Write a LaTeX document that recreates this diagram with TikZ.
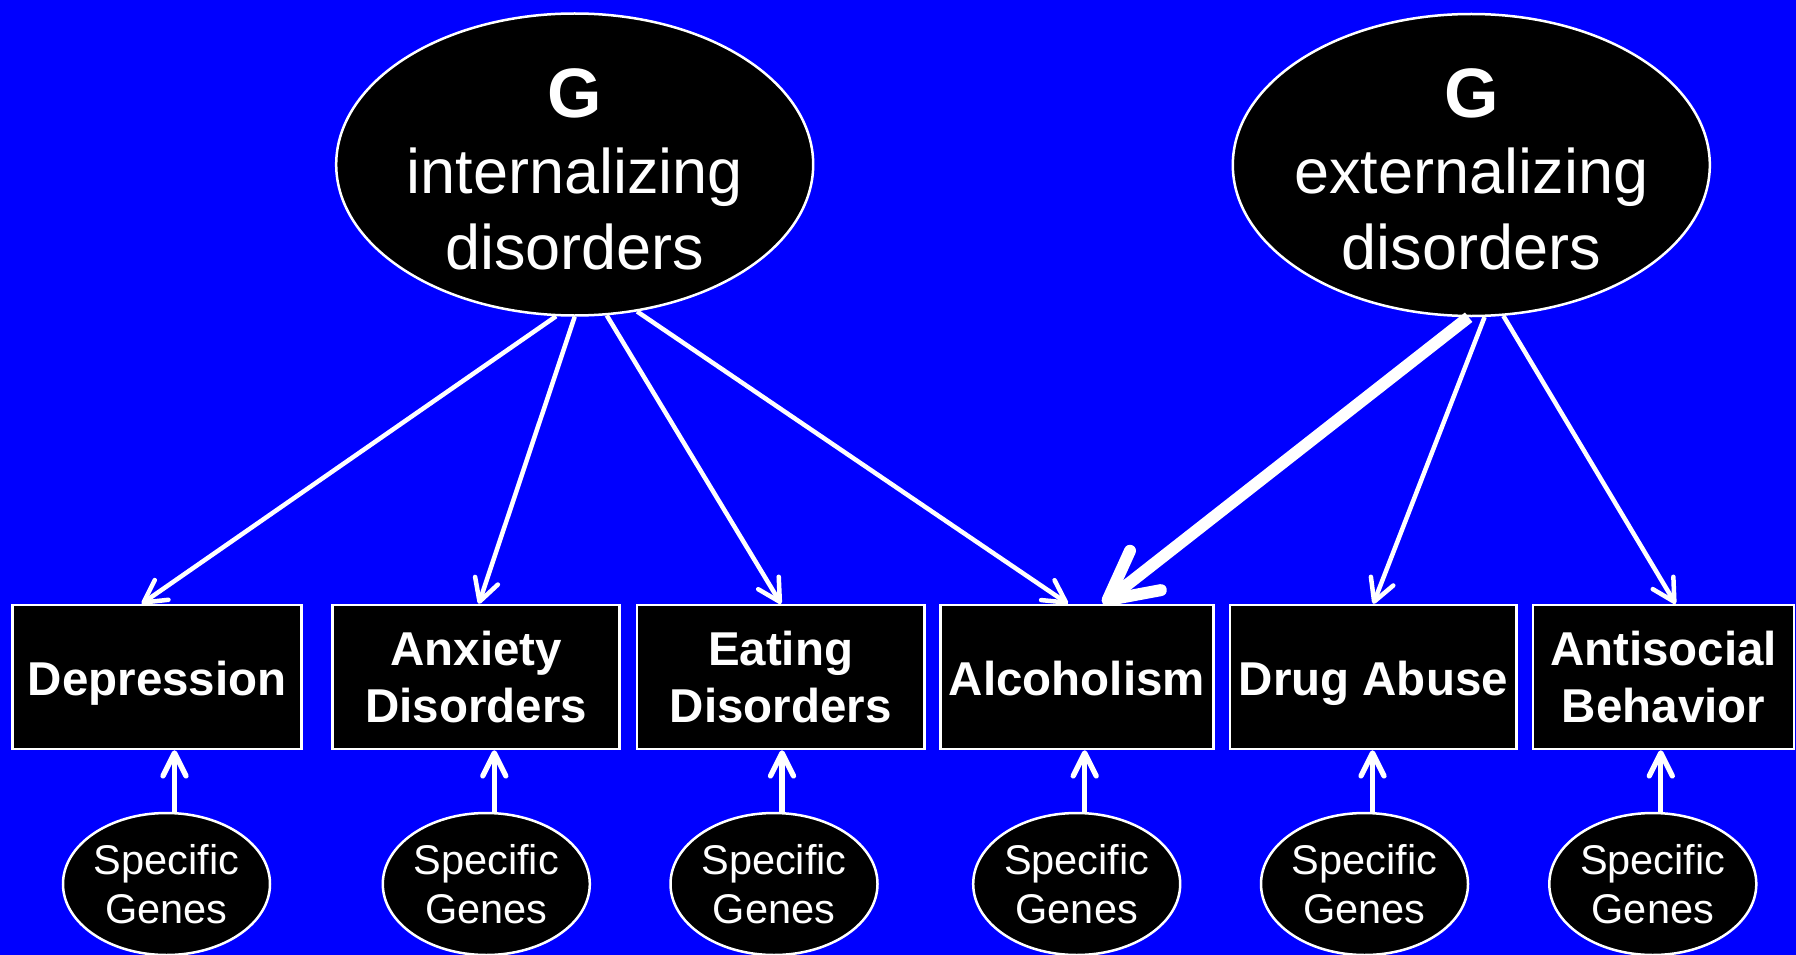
\documentclass[tikz,border=0pt]{standalone}
\usepackage{fontspec}
\setmainfont{Liberation Sans}
\usetikzlibrary{arrows.meta,shapes.geometric}
\begin{document}
\begin{tikzpicture}[x=1pt,y=-1pt,
  factor/.style={ellipse, draw=white, fill=black, line width=2.5pt, text=white,
    minimum width=477pt, minimum height=302pt, inner sep=-40pt, align=center,
    font=\fontsize{63}{76}\selectfont},
  trait/.style={rectangle, draw=white, fill=black, line width=2.5pt, text=white,
    minimum height=144pt, inner sep=0pt, align=center,
    font=\fontsize{47.5}{57}\selectfont\bfseries},
  oneline/.style={text height=37pt, text depth=0pt},
  genes/.style={ellipse, draw=white, fill=black, line width=2.5pt, text=white,
    minimum width=207pt, minimum height=142pt, inner sep=-10pt, align=center,
    font=\fontsize{41.5}{49}\selectfont},
  load/.style={draw=white, line width=4.5pt,
    -{Straight Barb[length=22pt,width=24pt,round]}},
  strong/.style={draw=white, line width=12pt,
    -{Straight Barb[length=48pt,width=50pt,round]}},
  spec/.style={draw=white, line width=5.3pt,
    -{Straight Barb[length=23pt,width=23pt,round]}},
]
% background
\fill[blue] (0,0) rectangle (1796,955);
\useasboundingbox (0,0) rectangle (1796,955);

% general genetic factors
\node[factor] (int) at (574.7,164.5)
  {\rule{0pt}{58pt}{\fontsize{70}{76}\selectfont\bfseries G}\\internalizing\\disorders};
\node[factor] (ext) at (1471.3,165)
  {\rule{0pt}{58pt}{\fontsize{70}{76}\selectfont\bfseries G}\\externalizing\\disorders};

% disorders
\node[trait,oneline,minimum width=289pt]   (b1) at (157.2,677)  {Depression};
\node[trait,minimum width=287pt]           (b2) at (476.1,677)  {Anxiety\\Disorders};
\node[trait,minimum width=287.6pt]         (b3) at (780.6,677)  {Eating\\Disorders};
\node[trait,oneline,minimum width=273.3pt] (b4) at (1076.9,677) {Alcoholism};
\node[trait,oneline,minimum width=286.8pt] (b5) at (1373.3,677) {Drug Abuse};
\node[trait,minimum width=261pt]           (b6) at (1663.5,677) {Antisocial\\Behavior};

% disorder-specific genes
\node[genes] (g1) at (166.5,884)  {Specific\\Genes};
\node[genes] (g2) at (486.3,884)  {Specific\\Genes};
\node[genes] (g3) at (774,884)    {Specific\\Genes};
\node[genes] (g4) at (1076.7,884) {Specific\\Genes};
\node[genes] (g5) at (1364.5,884) {Specific\\Genes};
\node[genes] (g6) at (1652.8,884) {Specific\\Genes};

% loadings of the general factors
\draw[load] (int.-97.1) -- ([xshift=-15.5pt]b1.north);
\draw[load] (int.-90.7) -- ([xshift=2.7pt]b2.north);
\draw[load] (int.-78.9) -- ([xshift=0.4pt]b3.north);
\draw[load] (int.-67.9) -- ([xshift=-9pt]b4.north);
\draw[strong] (ext.-91.7) -- ([xshift=26pt]b4.north);
\draw[load] (ext.-85.7) -- (b5.north);
\draw[load] (ext.-78.3) -- ([xshift=12pt]b6.north);

% specific genes to each disorder
\foreach \i in {1,...,6} {
  \coordinate (s\i) at ([xshift=8pt]g\i.north);
  \draw[spec] (s\i) -- (s\i |- b\i.south);
}
\end{tikzpicture}
\end{document}
